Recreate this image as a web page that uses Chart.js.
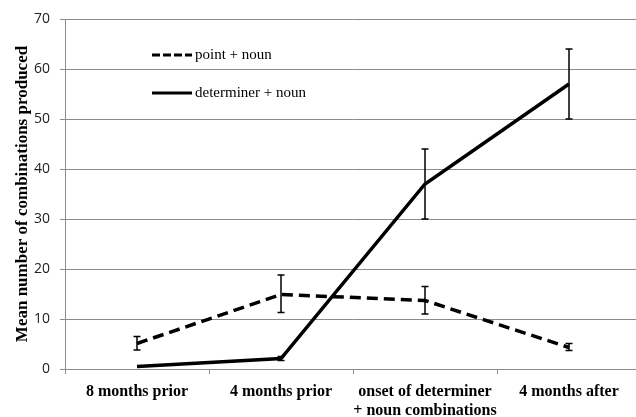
<!DOCTYPE html>
<html>
<head>
<meta charset="utf-8">
<script src="https://cdn.jsdelivr.net/npm/chart.js@4/dist/chart.umd.min.js"></script>
<style>
  html, body { margin: 0; padding: 0; background: #fff; overflow: hidden; width: 636px; height: 417px; }
  #wrap { position: absolute; left: 0; top: 0; width: 642px; height: 417px; }
</style>
</head>
<body>
<div id="wrap"><canvas id="c" width="642" height="417"></canvas></div>
<script>
const categories = ["8 months prior", "4 months prior", ["onset of determiner", "+ noun combinations"], "4 months after"];
const yTicks = [0, 10, 20, 30, 40, 50, 60, 70];

const pointNoun = [5.1, 14.9, 13.7, 4.3];
const pointNounLow = [3.8, 11.3, 11.0, 3.7];
const pointNounHigh = [6.5, 18.8, 16.5, 5.1];

const detNoun = [0.5, 2.1, 37, 57];
const detNounLow = [null, 1.7, 30, 50];
const detNounHigh = [null, 2.5, 44, 64];

const seriesLabels = ["point + noun", "determiner + noun"];

const GRID = "#8c8c8c";

const errorBars = {
  id: "errorBars",
  afterDatasetsDraw(chart) {
    const ctx = chart.ctx;
    const ys = chart.scales.y;
    chart.data.datasets.forEach((ds, di) => {
      const meta = chart.getDatasetMeta(di);
      meta.data.forEach((el, i) => {
        const lo = ds.errLow[i], hi = ds.errHigh[i];
        if (lo == null || hi == null) return;
        const x = el.x;
        const y1 = ys.getPixelForValue(lo), y2 = ys.getPixelForValue(hi);
        ctx.save();
        ctx.strokeStyle = "#000";
        ctx.lineWidth = 1.5;
        ctx.beginPath();
        ctx.moveTo(x, y1); ctx.lineTo(x, y2);
        ctx.moveTo(x - 3.5, y1); ctx.lineTo(x + 3.5, y1);
        ctx.moveTo(x - 3.5, y2); ctx.lineTo(x + 3.5, y2);
        ctx.stroke();
        ctx.restore();
      });
    });
  }
};

const customLegend = {
  id: "customLegend",
  afterDraw(chart) {
    const ctx = chart.ctx;
    const rows = [55, 93];
    chart.data.datasets.forEach((ds, i) => {
      const y = rows[i];
      ctx.save();
      ctx.strokeStyle = "#000";
      ctx.lineWidth = 3;
      ctx.lineCap = "butt";
      ctx.setLineDash(ds.borderDash && ds.borderDash.length ? [8, 3] : []);
      ctx.beginPath();
      ctx.moveTo(152, y); ctx.lineTo(192, y);
      ctx.stroke();
      ctx.setLineDash([]);
      ctx.fillStyle = "#000";
      ctx.font = "15px 'Liberation Serif'";
      ctx.textAlign = "left";
      ctx.textBaseline = "middle";
      ctx.fillText(ds.label, 195, y);
      ctx.restore();
    });
  }
};

new Chart(document.getElementById("c"), {
  type: "line",
  data: {
    labels: categories,
    datasets: [
      {
        label: seriesLabels[0],
        data: pointNoun,
        errLow: pointNounLow,
        errHigh: pointNounHigh,
        borderColor: "#000",
        borderWidth: 3.5,
        borderDash: [11, 6],
        pointRadius: 0,
        tension: 0,
        fill: false
      },
      {
        label: seriesLabels[1],
        data: detNoun,
        errLow: detNounLow,
        errHigh: detNounHigh,
        borderColor: "#000",
        borderWidth: 3.5,
        pointRadius: 0,
        tension: 0,
        fill: false
      }
    ]
  },
  options: {
    responsive: false,
    animation: false,
    layout: { padding: { left: 0, top: 19, right: 1, bottom: 0 } },
    plugins: { legend: { display: false }, tooltip: { enabled: false } },
    scales: {
      x: {
        type: "category",
        offset: true,
        grid: { display: true, drawOnChartArea: false, offset: true, tickLength: 5, color: GRID },
        border: { color: GRID, width: 1 },
        ticks: {
          color: "#000",
          padding: 9,
          maxRotation: 0,
          autoSkip: false,
          font: { family: "'Liberation Serif'", size: 16, weight: "bold", lineHeight: 1.15 }
        },
        afterFit(s) { s.height = 48; }
      },
      y: {
        min: 0,
        max: 70,
        afterBuildTicks(s) { s.ticks = yTicks.map(v => ({ value: v })); },
        grid: { color: GRID, tickLength: 5, lineWidth: 1 },
        border: { color: GRID, width: 1 },
        ticks: {
          color: "#222",
          padding: 10,
          font: { family: "'Open Sans'", size: 14 }
        },
        title: {
          display: true,
          text: "Mean number of combinations produced",
          color: "#000",
          font: { family: "'Liberation Serif'", size: 17, weight: "bold" },
          padding: { top: 12, bottom: 0 }
        },
        afterFit(s) { s.width = 65; }
      }
    }
  },
  plugins: [errorBars, customLegend]
});
</script>
</body>
</html>
